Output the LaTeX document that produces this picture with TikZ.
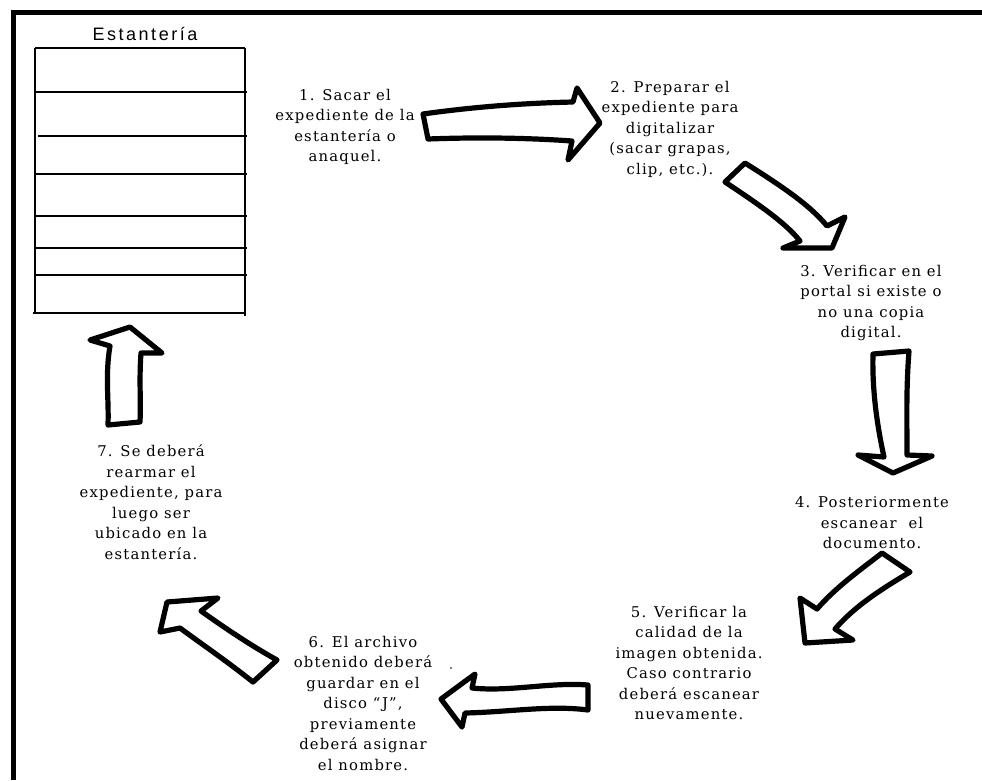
\documentclass[tikz,border=0pt]{standalone}
\usepackage{fontspec}
\newfontfamily\stepfont{DejaVu Serif}[LetterSpace=8]
\newfontfamily\shelffont{Liberation Sans}[LetterSpace=14]
\begin{document}
\begin{tikzpicture}[x=1pt,y=-1pt,
  steptext/.style={align=center, inner sep=0pt, font=\stepfont\fontsize{14.8}{20.5}\selectfont},
  blockarrow/.style={draw=black, fill=white, line width=5.2pt, line join=round},
  shelfline/.style={line width=1.3pt}]
\useasboundingbox (0,0) rectangle (982,780);
\fill[white] (0,0) rectangle (982,780);

% frame bars (top and left)
\fill[black] (11,9.5) rectangle (982,15);
\fill[black] (11,9.5) rectangle (16,780);

% shelf
\node[font=\shelffont\fontsize{18}{20}\selectfont, inner sep=0pt] (title) at (145,34) {Estantería};
\draw[shelfline] (35,48) -- (245,48);
\draw[shelfline] (35,48) -- (35,313);
\draw[shelfline] (245,48) -- (245,316);
\foreach \yy in {92,174,216,248,275} \draw[shelfline] (35,\yy) -- (247,\yy);
\draw[shelfline] (38,136) -- (247,136);
\draw[shelfline] (33,313) -- (245,313);

% step texts
\node[steptext] (t1) at (345,127) {1. Sacar el\\expediente de la\\estantería o\\anaquel.};
\node[steptext] (t2) at (670,129) {2. Preparar el\\expediente para\\digitalizar\\(sacar grapas,\\clip, etc.).};
\node[steptext] (t3) at (871,303) {3. Verificar en el\\portal si existe o\\no una copia\\digital.};
\node[steptext] (t4) at (872,523) {4. Posteriormente\\escanear\ \ el\\documento.};
\node[steptext] (t5) at (689,663) {5. Verificar la\\calidad de la\\imagen obtenida.\\Caso contrario\\deberá escanear\\nuevamente.};
\node[steptext] (t6) at (363,703) {6. El archivo\\obtenido deberá\\guardar en el\\disco “J”,\\previamente\\deberá asignar\\el nombre.};
\node[steptext] (t7) at (151,502) {7. Se deberá\\rearmar el\\expediente, para\\luego ser\\ubicado en la\\estantería.};
\fill (451,668) circle (0.8);

% block arrows between the steps
\draw[blockarrow] (423,114) .. controls (480,106) and (530,103) .. (573,102) -- (577,88) -- (600,123) -- (568,160) -- (572,141) .. controls (530,138) and (480,137) .. (428,139) -- cycle;
\draw[blockarrow] (745,163) .. controls (780,185) and (810,205) .. (827,226) -- (845,217) -- (832,248) -- (783,248) -- (800,241) .. controls (785,222) and (755,202) .. (725,182) -- cycle;
\draw[blockarrow] (873,354) -- (909,351) .. controls (906,390) and (907,420) .. (907,455) -- (932,456) -- (893,473) -- (858,455) -- (884,457) .. controls (877,425) and (872,390) .. (873,354) -- cycle;
\draw[blockarrow] (882,553) .. controls (860,570) and (835,588) .. (817,609) -- (800,598) -- (805,643) -- (853,640) -- (835,629) .. controls (855,606) and (880,590) .. (910,572) -- cycle;
\draw[blockarrow] (588,685) .. controls (550,682) and (510,692) .. (472,688) -- (475,674) -- (441,699) -- (462,727) -- (465,713) .. controls (510,712) and (550,705) .. (588,710) -- cycle;
\draw[blockarrow] (167,602) -- (218,598) -- (201,611) .. controls (225,628) and (250,645) .. (277,660) -- (253,682) .. controls (228,662) and (203,645) .. (180,628) -- (160,632) -- cycle;
\draw[blockarrow] (130,327) -- (162,353) -- (141,353) .. controls (139,380) and (141,400) .. (140,422) -- (108,425) .. controls (109,400) and (105,375) .. (110,346) -- (90,340) -- cycle;
\end{tikzpicture}
\end{document}
